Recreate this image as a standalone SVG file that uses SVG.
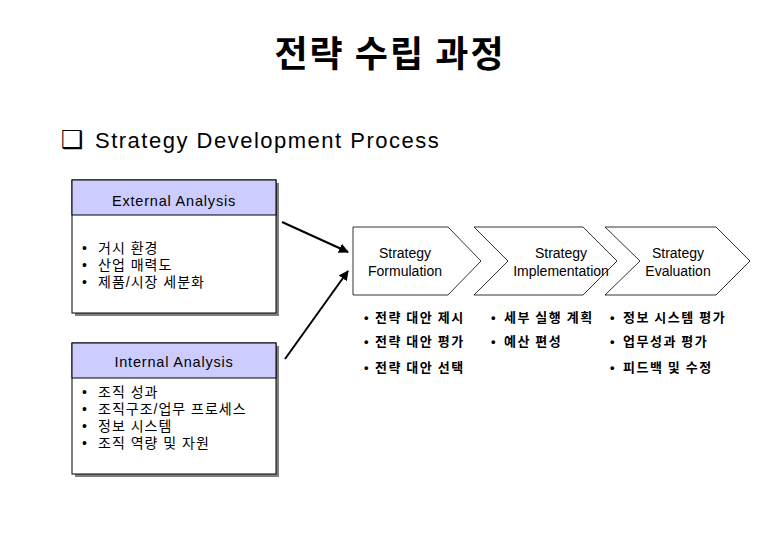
<svg xmlns="http://www.w3.org/2000/svg" width="780" height="540" viewBox="0 0 780 540">
<defs>
<marker id="ah" viewBox="0 0 10 10" refX="9" refY="5" markerWidth="5" markerHeight="5" orient="auto" markerUnits="strokeWidth">
<path d="M0,0 L10,5 L0,10 z" fill="#000"/>
</marker>
</defs>
<style>
.latin{font-family:"Liberation Sans",Arial,sans-serif;fill:#000}
.kr{font-family:"Noto Sans CJK KR","Liberation Sans",sans-serif;fill:#000}
.kr2{font-family:"Liberation Sans","Noto Sans CJK KR",sans-serif;fill:#000}
.b{font-family:"Liberation Sans",Arial,sans-serif}
.shadow{fill:#808080}
.box{fill:#fff;stroke:#000;stroke-width:1}
.hdr{fill:#CCCCFF;stroke:#000;stroke-width:1}
.chev{fill:#fff;stroke:#000;stroke-width:0.8}
.conn{stroke:#000;stroke-width:2;fill:none;marker-end:url(#ah)}
.lst{font-size:14px;letter-spacing:1px}
.blt{font-size:13px;font-weight:bold;letter-spacing:1.5px}
.ct{font-size:14px;text-anchor:middle}
.hd{font-size:14.5px;text-anchor:middle;letter-spacing:0.8px}
</style>
<rect width="780" height="540" fill="#fff"/>
<g id="title">
<text class="kr" x="390" y="67" font-size="36" font-weight="bold" text-anchor="middle" letter-spacing="2">전략 수립 과정</text>
</g>
<g id="subtitle">
<text x="61" y="148" font-family="DejaVu Sans,sans-serif" font-size="25">❑</text>
<text class="latin" x="95" y="148" font-size="22" letter-spacing="1.5">Strategy Development Process</text>
</g>
<g id="external">
<rect class="shadow" x="75" y="183" width="204" height="133"/>
<rect class="box" x="72" y="180" width="204" height="133"/>
<rect class="hdr" x="72" y="180" width="204" height="35"/>
<text class="latin hd" x="174" y="206">External Analysis</text>
<text class="kr2 lst"><tspan x="82" y="253">•</tspan><tspan x="98" y="253">거시 환경</tspan><tspan x="82" y="270">•</tspan><tspan x="98" y="270">산업 매력도</tspan><tspan x="82" y="287">•</tspan><tspan x="98" y="287">제품/시장 세분화</tspan></text>
</g>
<g id="internal">
<rect class="shadow" x="75" y="346" width="204" height="131"/>
<rect class="box" x="72" y="343" width="204" height="131"/>
<rect class="hdr" x="72" y="343" width="204" height="35"/>
<text class="latin hd" x="174" y="367">Internal Analysis</text>
<text class="kr2 lst"><tspan x="82" y="397">•</tspan><tspan x="98" y="397">조직 성과</tspan><tspan x="82" y="414">•</tspan><tspan x="98" y="414">조직구조/업무 프로세스</tspan><tspan x="82" y="431">•</tspan><tspan x="98" y="431">정보 시스템</tspan><tspan x="82" y="448">•</tspan><tspan x="98" y="448">조직 역량 및 자원</tspan></text>
</g>
<g id="formulation">
<path class="chev" d="M353,227 L448,227 L481,261 L448,295 L353,295 Z"/>
<text class="latin ct" x="405" y="258">Strategy</text>
<text class="latin ct" x="405" y="276">Formulation</text>
<text class="kr blt"><tspan class="b" x="364" y="322">•</tspan><tspan x="375" y="322">전략 대안 제시</tspan><tspan class="b" x="364" y="346">•</tspan><tspan x="375" y="346">전략 대안 평가</tspan><tspan class="b" x="364" y="372">•</tspan><tspan x="375" y="372">전략 대안 선택</tspan></text>
</g>
<g id="implementation">
<path class="chev" d="M474,227 L583,227 L617,261 L583,295 L474,295 L508,261 Z"/>
<text class="latin ct" x="561" y="258">Strategy</text>
<text class="latin ct" x="561" y="276">Implementation</text>
<text class="kr blt"><tspan class="b" x="491" y="322">•</tspan><tspan x="504" y="322">세부 실행 계획</tspan><tspan class="b" x="491" y="346">•</tspan><tspan x="504" y="346">예산 편성</tspan></text>
</g>
<g id="evaluation">
<path class="chev" d="M605,227 L716,227 L750,261 L716,295 L605,295 L640,261 Z"/>
<text class="latin ct" x="678" y="258">Strategy</text>
<text class="latin ct" x="678" y="276">Evaluation</text>
<text class="kr blt"><tspan class="b" x="610" y="322">•</tspan><tspan x="623" y="322">정보 시스템 평가</tspan><tspan class="b" x="610" y="346">•</tspan><tspan x="623" y="346">업무성과 평가</tspan><tspan class="b" x="610" y="372">•</tspan><tspan x="623" y="372">피드백 및 수정</tspan></text>
</g>
<g id="connectors">
<line class="conn" x1="282" y1="222" x2="348" y2="252"/>
<line class="conn" x1="285" y1="359" x2="348" y2="271"/>
</g>
</svg>
